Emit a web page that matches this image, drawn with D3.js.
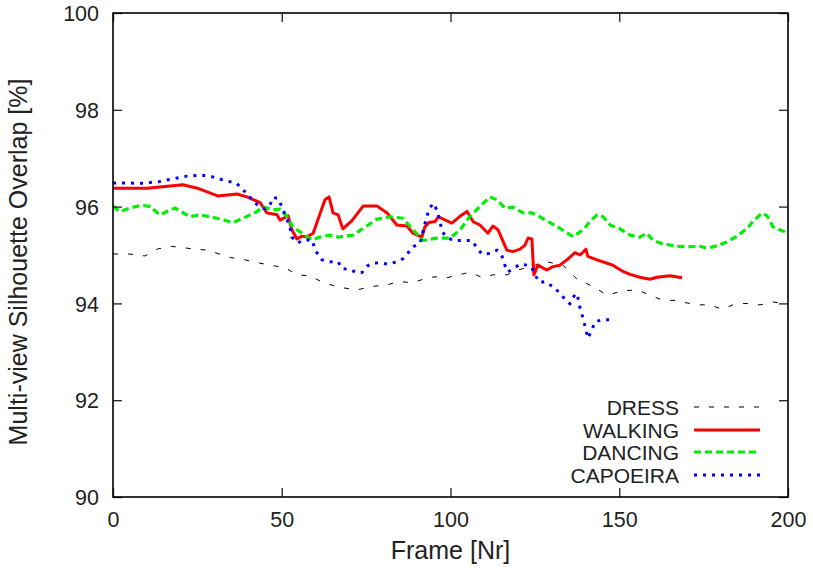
<!DOCTYPE html>
<html><head><meta charset="utf-8">
<script src="https://cdn.jsdelivr.net/npm/d3@7"></script>
<style>body{margin:0;background:#fff}text{font-family:"Liberation Sans",Arial,sans-serif;fill:#222}</style>
</head><body><svg id="c" width="813" height="572"></svg>
<script>
const xTicks=[0,50,100,150,200];
const yTicks=[90,92,94,96,98,100];
const seriesNames=["DRESS","WALKING","DANCING","CAPOEIRA"];
const dressX=[0,5,9.5,13,16.9,19.9,24.3,28.1,32.3,34.7,39.1,43,46.5,51,54.5,58.4,62.2,67.3,72.3,76.7,81.2,84.4,88.6,93,95.4,98.4,102.2,105.8,109.3,112.6,116.7,120,124.1,128.5,133.3,137.5,142.2,146.4,151.1,155.3,159.1,162.7,166.5,170,173.3,176.9,180.4,183.7,187.3,191.7,195.6,199.1];
const dressY=[95.02,95.02,94.98,95.12,95.18,95.16,95.12,95.1,95.0,94.95,94.9,94.84,94.79,94.74,94.59,94.57,94.43,94.33,94.28,94.35,94.38,94.45,94.43,94.52,94.55,94.52,94.59,94.64,94.54,94.59,94.59,94.69,94.77,94.86,94.79,94.5,94.35,94.17,94.26,94.28,94.17,94.07,94.06,94.01,93.97,93.97,93.88,93.97,94.0,93.97,94.03,93.99];
const walkX=[0,10,20.7,25,31,36.7,39.7,43.6,45.6,48.6,49.5,51.9,53,54.5,56,57.4,59.3,62.8,64,65.2,66.7,68.1,70.8,74.1,78.2,81.2,84.1,87.1,88.9,91.5,92.4,93.6,95.4,96.4,100.4,102.8,104.9,106.7,108.7,111.1,112.6,114.1,116.7,118.5,120.6,122,123,124.1,124.7,125.9,128.5,130.4,132.4,134.5,136.9,138.4,140.1,140.7,143.4,146.4,148.1,151.1,153.2,156.1,159.1,161.2,165,168.6];
const walkY=[96.38,96.38,96.45,96.38,96.22,96.26,96.2,96.08,95.87,95.83,95.72,95.81,95.52,95.33,95.39,95.37,95.45,96.14,96.2,95.87,95.83,95.54,95.71,96.01,96.01,95.87,95.62,95.6,95.45,95.37,95.58,95.67,95.69,95.79,95.66,95.8,95.9,95.69,95.62,95.45,95.6,95.52,95.1,95.07,95.12,95.2,95.35,95.33,94.59,94.79,94.69,94.76,94.79,94.9,95.05,95.0,95.12,94.97,94.9,94.83,94.79,94.66,94.6,94.54,94.5,94.54,94.57,94.53];
const danceX=[0,2,5,8.6,11,13.9,16,18.4,22.8,25.8,30.8,35.6,38.5,42.7,44.4,47.4,49.5,51.6,53.3,56,59,61.3,64.3,66.7,71.1,74.1,78.2,82.1,85.9,88.9,91.9,96,99.9,102.8,105.8,108.7,111.7,113.8,116.1,118.5,121.5,124.1,126.5,129.5,132.4,136.3,139.3,141.3,143.4,145.2,147.3,150.2,153.2,156.1,158.2,160,163,167.1,171,173.9,176,179,181.9,184.9,187.9,189.6,192.3,193.8,195.6,199.7];
const danceY=[96.01,95.9,95.97,96.03,96.0,95.83,95.9,95.97,95.79,95.83,95.76,95.67,95.76,95.9,96.0,95.93,95.95,95.79,95.58,95.45,95.31,95.37,95.41,95.37,95.41,95.55,95.74,95.79,95.76,95.52,95.3,95.35,95.35,95.52,95.8,96.0,96.2,96.14,95.97,95.99,95.87,95.87,95.79,95.67,95.55,95.38,95.52,95.69,95.83,95.79,95.62,95.54,95.41,95.37,95.45,95.3,95.23,95.18,95.17,95.18,95.14,95.19,95.27,95.39,95.55,95.69,95.87,95.81,95.58,95.46];
const capoX=[0,2,8.9,13.9,19,21.9,25.8,28.7,32.6,36.7,38.5,40,41.5,43.6,45,46.5,47.4,48.9,50,51,52.4,53,54.8,56.3,59,59.9,61.9,64.3,66.7,67.8,70.2,72.3,73.8,75.3,77,79.1,81.5,84.1,85.9,87.4,88.9,91,92.7,93.6,94.8,96,96.9,97.5,99,100.7,103.4,106.4,107.9,109.3,111.7,113.8,115.3,116.1,117,119.1,120.6,122.7,124.1,125,126.5,128,129.5,131,132.4,134.5,135.4,136.9,137.5,138.4,139.3,139.9,140.7,141.9,142.8,144.9,146.7,148.7];
const capoY=[96.49,96.49,96.48,96.52,96.59,96.63,96.65,96.63,96.55,96.48,96.34,96.26,96.1,96.0,95.95,96.03,96.19,96.17,96.0,95.83,95.58,95.37,95.25,95.31,95.31,95.1,94.9,94.86,94.86,94.72,94.7,94.63,94.64,94.77,94.83,94.84,94.81,94.86,94.92,95.04,95.17,95.25,95.72,95.93,96.07,95.93,95.69,95.48,95.37,95.3,95.3,95.3,95.14,95.02,95.03,95.1,94.97,94.79,94.65,94.74,94.81,94.79,94.74,94.59,94.43,94.45,94.38,94.33,94.19,94.06,93.99,94.19,94.2,93.9,93.69,93.52,93.28,93.45,93.62,93.66,93.66,93.66];

const svg=d3.select("#c");
const L=113,R=788,T=13,B=497;
const x=d3.scaleLinear().domain([0,200]).range([L,R]);
const y=d3.scaleLinear().domain([90,100]).range([B,T]);

const styles=[
 {color:"#000",w:1,dash:"5,10"},
 {color:"#ff0000",w:3,dash:null},
 {color:"#00ee00",w:3.2,dash:"7,4"},
 {color:"#0000ff",w:3,dash:"3,6"}
];
const data=[[dressX,dressY],[walkX,walkY],[danceX,danceY],[capoX,capoY]];
const line=d3.line().x(d=>x(d[0])).y(d=>y(d[1]));

svg.append("clipPath").attr("id","cp").append("rect").attr("x",L).attr("y",T).attr("width",R-L).attr("height",B-T);
data.forEach((s,i)=>{
  const pts=s[0].map((v,k)=>[v,s[1][k]]);
  svg.append("path").attr("d",line(pts)).attr("fill","none")
    .attr("stroke",styles[i].color).attr("stroke-width",styles[i].w)
    .attr("stroke-dasharray",styles[i].dash).attr("stroke-linejoin","round")
    .attr("clip-path","url(#cp)");
});

const gb=svg.append("g").attr("transform",`translate(0,${B})`).call(d3.axisBottom(x).tickValues(xTicks).tickSizeInner(-9).tickSizeOuter(0).tickPadding(15));
const gt=svg.append("g").attr("transform",`translate(0,${T})`).call(d3.axisTop(x).tickValues(xTicks).tickSizeInner(-9).tickSizeOuter(0).tickFormat(""));
const gl=svg.append("g").attr("transform",`translate(${L},0)`).call(d3.axisLeft(y).tickValues(yTicks).tickSizeInner(-9).tickSizeOuter(0).tickPadding(14));
const gr=svg.append("g").attr("transform",`translate(${R},0)`).call(d3.axisRight(y).tickValues(yTicks).tickSizeInner(-9).tickSizeOuter(0).tickFormat(""));
[gb,gt,gl,gr].forEach(g=>{g.select(".domain").remove();g.selectAll("line").attr("stroke","#222").attr("stroke-width",1.3);g.selectAll("text").style("font-size","21.5px").style("fill","#222").attr("font-family",null);});
gl.selectAll("text").attr("dy","0.36em");
svg.append("rect").attr("x",L).attr("y",T).attr("width",R-L).attr("height",B-T).attr("fill","none").attr("stroke","#000").attr("stroke-width",1.6);

svg.append("text").attr("x",(L+R)/2).attr("y",559).attr("text-anchor","middle").style("font-size","25px").text("Frame [Nr]");
svg.append("text").attr("transform",`translate(27,262) rotate(-90)`).attr("text-anchor","middle").style("font-size","25px").text("Multi-view Silhouette Overlap [%]");

const ly=[407,430,452,475];
seriesNames.forEach((n,i)=>{
  svg.append("text").attr("x",679).attr("y",ly[i]).attr("dy","0.36em").attr("text-anchor","end").style("font-size","21px").text(n);
  svg.append("line").attr("x1",694).attr("x2",760).attr("y1",ly[i]).attr("y2",ly[i])
    .attr("stroke",styles[i].color).attr("stroke-width",styles[i].w).attr("stroke-dasharray",styles[i].dash);
});
</script></body></html>
